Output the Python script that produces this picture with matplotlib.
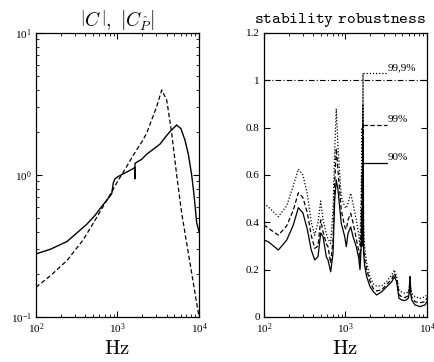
import numpy as np
import matplotlib
matplotlib.use("Agg")
import matplotlib.pyplot as plt
from matplotlib.ticker import LogLocator, NullFormatter

plt.rcParams['mathtext.fontset'] = 'cm'
plt.rcParams['font.family'] = 'serif'
plt.rcParams['font.serif'] = ['Liberation Serif', 'DejaVu Serif']

# left panel: |C| (solid) and |C_Phat| (dashed), log-log
f_c = [100, 150, 240, 420, 530, 640, 809, 850, 888, 932, 980, 1000, 1300,
       1563, 1625, 1632, 1640, 1981, 2280, 2750, 3321, 4018, 4406, 5320,
       6000, 6730, 7400, 8130, 8700, 9370, 10000]
mag_c = [0.278, 0.30, 0.34, 0.45, 0.52, 0.60, 0.71, 0.74, 0.88, 0.94, 0.96,
         0.97, 1.05, 1.11, 1.13, 0.94, 1.21, 1.29, 1.40, 1.52, 1.65, 1.90,
         2.02, 2.25, 2.12, 1.76, 1.40, 1.0, 0.72, 0.46, 0.40]

f_cp = [100, 150, 240, 380, 530, 700, 850, 1000, 1300, 1563, 2000, 2280,
        3027, 3486, 4018, 4624, 5320, 6135, 7762, 9370, 10000]
mag_cp = [0.162, 0.195, 0.25, 0.35, 0.48, 0.63, 0.76, 0.90, 1.15, 1.38, 1.72,
          1.97, 3.03, 3.97, 3.37, 1.97, 1.0, 0.537, 0.239, 0.125, 0.10]

# right panel: stability robustness for 90%, 99%, 99.9%
f_rob = [100, 113, 150, 190, 229, 264, 300, 340, 380, 419, 460, 496, 530,
         581, 610, 658, 703, 737, 771, 809, 887, 978, 1023, 1073, 1158, 1236,
         1357, 1450, 1506, 1560, 1600, 1615, 1625, 1632, 1640, 1648, 1656,
         1665, 1711, 1820, 2000, 2195, 2414, 2782, 3206, 3693, 3970, 4250,
         4533, 4893, 5370, 5897, 6050, 6180, 6320, 6487, 7124, 8204, 9447,
         10000]
rob_90 = [0.325, 0.318, 0.283, 0.325, 0.389, 0.462, 0.44, 0.37, 0.283, 0.241,
          0.255, 0.355, 0.34, 0.255, 0.241, 0.191, 0.269, 0.494, 0.579, 0.537,
          0.396, 0.34, 0.297, 0.353, 0.381, 0.34, 0.297, 0.25, 0.20, 0.30,
          0.45, 0.30, 0.55, 0.40, 0.65, 0.35, 0.50, 0.28, 0.22, 0.17, 0.128,
          0.107, 0.093, 0.107, 0.128, 0.149, 0.17, 0.149, 0.079, 0.072,
          0.069, 0.079, 0.10, 0.17, 0.10, 0.072, 0.051, 0.044, 0.051, 0.065]
rob_99 = [0.39, 0.375, 0.346, 0.385, 0.452, 0.525, 0.505, 0.44, 0.345, 0.29,
          0.30, 0.41, 0.36, 0.31, 0.297, 0.227, 0.325, 0.565, 0.713, 0.62,
          0.452, 0.381, 0.37, 0.41, 0.438, 0.40, 0.33, 0.28, 0.24, 0.40,
          0.60, 0.40, 0.70, 0.50, 0.81, 0.45, 0.60, 0.32, 0.25, 0.20, 0.15,
          0.12, 0.11, 0.115, 0.138, 0.16, 0.185, 0.16, 0.095, 0.085, 0.082,
          0.09, 0.11, 0.17, 0.11, 0.085, 0.065, 0.06, 0.065, 0.08]
rob_999 = [0.48, 0.465, 0.424, 0.47, 0.555, 0.625, 0.60, 0.52, 0.40, 0.345,
           0.40, 0.49, 0.41, 0.353, 0.33, 0.311, 0.45, 0.706, 0.88, 0.72,
           0.508, 0.466, 0.46, 0.48, 0.523, 0.48, 0.41, 0.35, 0.30, 0.55,
           0.80, 0.50, 0.90, 0.60, 1.03, 0.55, 0.75, 0.38, 0.30, 0.227, 0.17,
           0.14, 0.13, 0.132, 0.15, 0.177, 0.199, 0.17, 0.114, 0.105, 0.10,
           0.105, 0.12, 0.17, 0.12, 0.10, 0.086, 0.079, 0.085, 0.093]
rob_labels = ['90%', '99%', '99,9%']

solid = '-'
dashed = (0, (3.5, 2))
dotted = (0, (1, 1.5))


def style_axes(ax):
    ax.tick_params(which='both', direction='in', top=True, right=True,
                   labelsize=8, pad=3)
    ax.tick_params(which='major', length=4, width=0.8)
    ax.tick_params(which='minor', length=2.5, width=0.6)
    for s in ax.spines.values():
        s.set_linewidth(0.9)


fig = plt.figure(figsize=(4.35, 3.62), dpi=100)
ax1 = fig.add_axes([36 / 435, 45 / 362, 163 / 435, 284 / 362])
ax2 = fig.add_axes([264 / 435, 45 / 362, 163 / 435, 284 / 362])

# ---- left
ax1.loglog(f_c, mag_c, color='k', ls=solid, lw=1.0)
ax1.loglog(f_cp, mag_cp, color='k', ls=dashed, lw=0.9)
ax1.set_xlim(100, 1e4)
ax1.set_ylim(0.1, 10)
ax1.xaxis.set_minor_locator(LogLocator(subs=np.arange(2, 10)))
ax1.yaxis.set_minor_locator(LogLocator(subs=np.arange(2, 10)))
ax1.xaxis.set_minor_formatter(NullFormatter())
ax1.yaxis.set_minor_formatter(NullFormatter())
style_axes(ax1)
ax1.set_title(r'$\left|C\,\right|,\ \left|C_{\hat{P}}\right|$', fontsize=14, pad=4)
ax1.set_xlabel(r'$\mathrm{Hz}$', fontsize=15, labelpad=3)

# ---- right
ax2.semilogx(f_rob, rob_90, color='k', ls=solid, lw=0.9)
ax2.semilogx(f_rob, rob_99, color='k', ls=dashed, lw=0.9)
ax2.semilogx(f_rob, rob_999, color='k', ls=dotted, lw=0.9)
ax2.axhline(1.0, color='k', lw=0.8, ls=(0, (5, 2, 1, 2)))

# peak labels with leader lines
for vals, lbl, ls in zip([rob_90, rob_99, rob_999], rob_labels,
                         [solid, dashed, dotted]):
    i = int(np.argmax(vals))
    ax2.plot([f_rob[i], 3200], [vals[i], vals[i]], color='k', ls=ls, lw=0.9)
    ax2.text(3300, vals[i] + 0.005, lbl, fontsize=8, ha='left', va='bottom')

ax2.set_xlim(100, 1e4)
ax2.set_ylim(0, 1.2)
ax2.set_yticks([0, 0.2, 0.4, 0.6, 0.8, 1.0, 1.2])
ax2.set_yticklabels(['0', '0.2', '0.4', '0.6', '0.8', '1', '1.2'])
ax2.xaxis.set_minor_locator(LogLocator(subs=np.arange(2, 10)))
ax2.xaxis.set_minor_formatter(NullFormatter())
style_axes(ax2)
ax2.set_title(r'$\mathtt{stability\ robustness}$', fontsize=12,
              x=(340 - 264) / 163, pad=7)
ax2.set_xlabel(r'$\mathrm{Hz}$', fontsize=15, labelpad=3)

fig.savefig('out.png', dpi=100)
